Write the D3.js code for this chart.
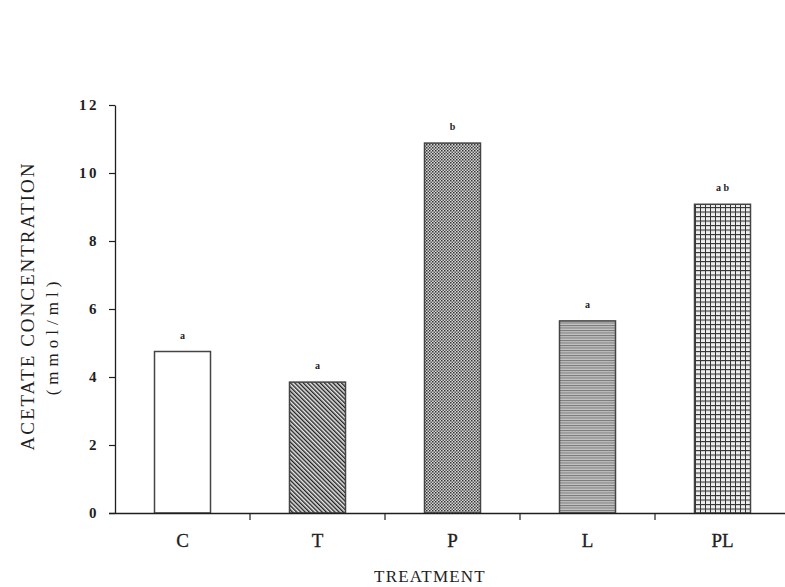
<!DOCTYPE html>
<html><head><meta charset="utf-8">
<script src="https://cdn.jsdelivr.net/npm/d3@7"></script>
<style>body{margin:0;background:#fff}svg{display:block}</style>
</head><body>
<script>
const categories = ["C", "T", "P", "L", "PL"];
const values = [4.75, 3.85, 10.88, 5.65, 9.08];
const letters = ["a", "a", "b", "a", "a b"];
const yTicks = [0, 2, 4, 6, 8, 10, 12];
const patterns = ["none", "diag", "dots", "hlines", "grid"];

const W = 785, H = 587;
const svg = d3.select("body").append("svg").attr("width", W).attr("height", H);
const defs = svg.append("defs");

// patterns
const pd = defs.append("pattern").attr("id","diag").attr("patternUnits","userSpaceOnUse")
  .attr("width",3).attr("height",3).attr("patternTransform","rotate(-45)");
pd.append("rect").attr("width",3).attr("height",3).attr("fill","#e8e8e8");
pd.append("line").attr("x1",0.7).attr("y1",0).attr("x2",0.7).attr("y2",3).attr("stroke","#222").attr("stroke-width",1.4);

const pdot = defs.append("pattern").attr("id","dots").attr("patternUnits","userSpaceOnUse")
  .attr("width",3).attr("height",3);
pdot.append("rect").attr("width",3).attr("height",3).attr("fill","#d8d8d8");
pdot.append("rect").attr("x",0).attr("y",0).attr("width",1.5).attr("height",1.5).attr("fill","#333");
pdot.append("rect").attr("x",1.5).attr("y",1.5).attr("width",1.5).attr("height",1.5).attr("fill","#555");

const ph = defs.append("pattern").attr("id","hlines").attr("patternUnits","userSpaceOnUse")
  .attr("width",4).attr("height",2.5);
ph.append("rect").attr("width",4).attr("height",2.5).attr("fill","#c4c4c4");
ph.append("line").attr("x1",0).attr("y1",0.5).attr("x2",4).attr("y2",0.5).attr("stroke","#777").attr("stroke-width",1);

const pg = defs.append("pattern").attr("id","grid").attr("patternUnits","userSpaceOnUse")
  .attr("width",5).attr("height",4.5);
pg.append("rect").attr("width",5).attr("height",4.5).attr("fill","#eee");
pg.append("line").attr("x1",0.5).attr("y1",0).attr("x2",0.5).attr("y2",4.5).attr("stroke","#333").attr("stroke-width",1);
pg.append("line").attr("x1",0).attr("y1",0.5).attr("x2",5).attr("y2",0.5).attr("stroke","#333").attr("stroke-width",1.2);

const x = d3.scaleBand().domain(categories).range([115, 790]);
const y = d3.scaleLinear().domain([0, 12]).range([513, 105]);
const barW = 56;
const ink = "#1e1e1e";
const font = "'Liberation Serif', 'Times New Roman', serif";

// bars
svg.selectAll("rect.bar").data(categories).join("rect").attr("class","bar")
  .attr("x", d => x(d) + x.bandwidth()/2 - barW/2)
  .attr("y", (d,i) => y(values[i]))
  .attr("width", barW)
  .attr("height", (d,i) => y(0) - y(values[i]))
  .attr("fill", (d,i) => patterns[i] === "none" ? "#fff" : `url(#${patterns[i]})`)
  .attr("stroke", "#444").attr("stroke-width", 1.5);

// significance letters
svg.selectAll("text.sig").data(categories).join("text").attr("class","sig")
  .attr("x", d => x(d) + x.bandwidth()/2)
  .attr("y", (d,i) => y(values[i]) - 13)
  .attr("text-anchor","middle")
  .attr("font-family", font).attr("font-weight","bold").attr("font-size", 10)
  .attr("fill", ink)
  .text((d,i) => letters[i]);

// y axis
const yAxis = d3.axisLeft(y).tickValues(yTicks).tickSize(6).tickSizeOuter(0).tickPadding(10);
const gy = svg.append("g").attr("transform","translate(115,0)").call(yAxis);
gy.select(".domain").attr("stroke", ink).attr("stroke-width",1.3);
gy.selectAll(".tick line").attr("stroke", ink).attr("stroke-width",1.2);
gy.selectAll(".tick text").attr("font-family", font).attr("font-size", 15)
  .attr("font-weight","bold").attr("fill", ink).attr("letter-spacing", 2.5);

// x axis
const xAxis = d3.axisBottom(x).tickSize(0).tickPadding(21);
const gx = svg.append("g").attr("transform","translate(0,513)").call(xAxis);
gx.select(".domain").attr("stroke", ink).attr("stroke-width",1.3).attr("d","M109,0.5H785");
gx.selectAll(".tick text").attr("font-family", font).attr("font-size", 19)
  .attr("fill", ink).attr("stroke", ink).attr("stroke-width", 0.3);
// boundary ticks
svg.append("g").selectAll("line").data(categories.slice(1)).join("line")
  .attr("x1", d => x(d)).attr("x2", d => x(d))
  .attr("y1", 513).attr("y2", 520).attr("stroke", ink).attr("stroke-width",1.2);

// axis titles
svg.append("text").attr("transform","translate(34,306) rotate(-90)")
  .attr("text-anchor","middle").attr("font-family", font).attr("font-size", 19)
  .attr("fill", ink).attr("letter-spacing", 2).text("ACETATE CONCENTRATION");
svg.append("text").attr("transform","translate(58,336) rotate(-90)")
  .attr("text-anchor","middle").attr("font-family", font).attr("font-size", 17)
  .attr("fill", ink).attr("letter-spacing", 5).text("(mmol/ml)");
svg.append("text").attr("x", 430).attr("y", 582)
  .attr("text-anchor","middle").attr("font-family", font).attr("font-size", 17)
  .attr("fill", ink).attr("letter-spacing", 1.2).text("TREATMENT");
</script>
</body></html>
